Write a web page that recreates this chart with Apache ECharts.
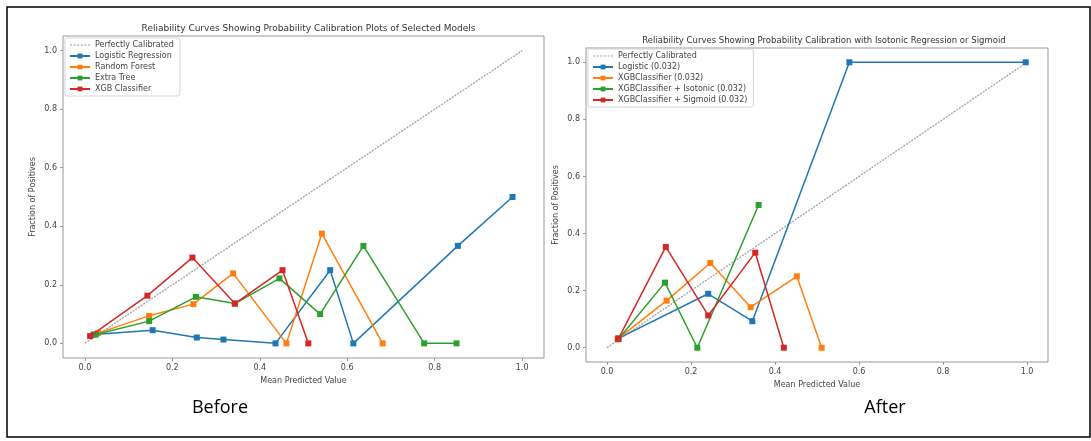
<!DOCTYPE html>
<html>
<head>
<meta charset="utf-8">
<script src="https://cdn.jsdelivr.net/npm/echarts@6/dist/echarts.min.js"></script>
<style>
html,body{margin:0;padding:0;background:#fff;}
#c{width:1091px;height:441px;}
</style>
</head>
<body>
<div id="c"></div>
<script>
// ---- data ----
const tickValues = [0, 0.2, 0.4, 0.6, 0.8, 1.0];
const perfectX = [0, 1];
const perfectY = [0, 1];

// Before (left)
const lrX = [0.02, 0.155, 0.256, 0.317, 0.436, 0.561, 0.614, 0.853, 0.978];
const lrY = [0.03, 0.045, 0.02, 0.013, 0.0, 0.25, 0.0, 0.333, 0.5];
const rfX = [0.03, 0.147, 0.248, 0.339, 0.461, 0.542, 0.681];
const rfY = [0.035, 0.094, 0.134, 0.239, 0.0, 0.375, 0.0];
const etX = [0.025, 0.147, 0.254, 0.343, 0.445, 0.538, 0.637, 0.776, 0.85];
const etY = [0.03, 0.076, 0.159, 0.136, 0.222, 0.1, 0.333, 0.0, 0.0];
const xgbX = [0.012, 0.143, 0.246, 0.343, 0.452, 0.511];
const xgbY = [0.025, 0.163, 0.293, 0.136, 0.25, 0.0];

// After (right)
const logX = [0.027, 0.241, 0.346, 0.577, 0.997];
const logY = [0.033, 0.189, 0.093, 1.0, 1.0];
const xgX = [0.025, 0.142, 0.246, 0.342, 0.452, 0.511];
const xgY = [0.03, 0.165, 0.297, 0.142, 0.25, 0.0];
const isoX = [0.027, 0.138, 0.215, 0.361];
const isoY = [0.03, 0.228, 0.0, 0.5];
const sigX = [0.027, 0.14, 0.241, 0.353, 0.421];
const sigY = [0.031, 0.353, 0.113, 0.333, 0.0];

const leftNames = ['Perfectly Calibrated', 'Logistic Regression', 'Random Forest', 'Extra Tree', 'XGB Classifier'];
const rightNames = ['Perfectly Calibrated ', 'Logistic (0.032)', 'XGBClassifier (0.032)', 'XGBClassifier + Isotonic (0.032)', 'XGBClassifier + Sigmoid (0.032)'];
const titles = ['Reliability Curves Showing Probability Calibration Plots of Selected Models',
                'Reliability Curves Showing Probability Calibration with Isotonic Regression or Sigmoid'];
const captions = ['Before', 'After'];
const colors = ['#1f77b4', '#ff7f0e', '#2ca02c', '#d62728'];

function pairs(xs, ys) { return xs.map((x, i) => [x, ys[i]]); }

const chart = echarts.init(document.getElementById('c'), null, {renderer: 'canvas'});
const txt = '#444';
const font = 'DejaVu Sans';
const perfectColor = '#a0a0a0';
const dottedIcon = 'path://M0,0h2v1h-2z M3.5,0h2v1h-2z M7,0h2v1h-2z M10.5,0h2v1h-2z M14,0h2v1h-2z M17.5,0h2v1h-2z';

function xAx(gi) {
  return {
    type: 'value', gridIndex: gi, min: -0.05, max: 1.05,
    name: 'Mean Predicted Value', nameLocation: 'middle', nameGap: 17,
    nameTextStyle: {fontSize: 8, color: txt, fontFamily: font},
    axisLine: {show: false, onZero: false},
    axisTick: {show: true, length: 3, customValues: tickValues, lineStyle: {color: '#999'}},
    axisLabel: {customValues: tickValues, fontSize: 8, color: txt, fontFamily: font, margin: 6,
      formatter: v => v.toFixed(1)},
    splitLine: {show: false}
  };
}
function yAx(gi) {
  return {
    type: 'value', gridIndex: gi, min: -0.05, max: 1.05,
    name: 'Fraction of Positives', nameLocation: 'middle', nameGap: 26, nameRotate: 90,
    nameTextStyle: {fontSize: 8, color: txt, fontFamily: font},
    axisLine: {show: false, onZero: false},
    axisTick: {show: true, length: 3, customValues: tickValues, lineStyle: {color: '#999'}},
    axisLabel: {customValues: tickValues, fontSize: 8, color: txt, fontFamily: font, margin: 6,
      formatter: v => v.toFixed(1)},
    splitLine: {show: false}
  };
}

function perfect(name, gi) {
  return {name: name, type: 'line', xAxisIndex: gi, yAxisIndex: gi, data: pairs(perfectX, perfectY),
    symbol: 'none', lineStyle: {color: perfectColor, width: 1.3, type: [2, 1.2]}, itemStyle: {color: perfectColor},
    silent: true, z: 1};
}
function curve(name, gi, xs, ys, ci) {
  return {name: name, type: 'line', xAxisIndex: gi, yAxisIndex: gi, data: pairs(xs, ys),
    symbol: 'rect', symbolSize: 6, showSymbol: true,
    lineStyle: {color: colors[ci], width: 1.5}, itemStyle: {color: colors[ci]}, z: 2 + ci};
}

function legend(names, left, top) {
  return {
    data: names.map((n, i) => i === 0 ? {name: n, icon: dottedIcon, itemStyle: {color: perfectColor}} : {name: n}),
    orient: 'vertical', left: left, top: top,
    itemWidth: 20, itemHeight: 6, itemGap: 3, padding: [3, 6, 3, 4],
    backgroundColor: 'rgba(255,255,255,0.85)', borderColor: '#d5d5d5', borderWidth: 1, borderRadius: 2,
    textStyle: {fontSize: 8, color: txt, fontFamily: font},
    selectedMode: false
  };
}

const option = {
  animation: false,
  backgroundColor: '#fff',
  title: [
    {text: titles[0], left: 303.5, top: 19, textAlign: 'center',
      textStyle: {fontSize: 9, fontWeight: 'normal', color: '#333', fontFamily: font}},
    {text: titles[1], left: 819, top: 31, textAlign: 'center',
      textStyle: {fontSize: 8.5, fontWeight: 'normal', color: '#333', fontFamily: font}}
  ],
  grid: [
    {left: 63, top: 36, width: 481, height: 322, show: true, borderColor: '#999', borderWidth: 1,
      backgroundColor: 'transparent', outerBoundsMode: 'none', containLabel: false},
    {left: 586, top: 48, width: 462, height: 314, show: true, borderColor: '#999', borderWidth: 1,
      backgroundColor: 'transparent', outerBoundsMode: 'none', containLabel: false}
  ],
  xAxis: [xAx(0), xAx(1)],
  yAxis: [yAx(0), yAx(1)],
  legend: [legend(leftNames, 65, 38), legend(rightNames, 588, 49)],
  series: [
    perfect(leftNames[0], 0),
    curve(leftNames[1], 0, lrX, lrY, 0),
    curve(leftNames[2], 0, rfX, rfY, 1),
    curve(leftNames[3], 0, etX, etY, 2),
    curve(leftNames[4], 0, xgbX, xgbY, 3),
    perfect(rightNames[0], 1),
    curve(rightNames[1], 1, logX, logY, 0),
    curve(rightNames[2], 1, xgX, xgY, 1),
    curve(rightNames[3], 1, isoX, isoY, 2),
    curve(rightNames[4], 1, sigX, sigY, 3)
  ],
  graphic: [
    {type: 'rect', shape: {x: 7, y: 7, width: 1083, height: 430}, style: {fill: 'none', stroke: '#000', lineWidth: 1.5}, silent: true},
    {type: 'text', x: 220, y: 408, style: {text: captions[0], font: '18px "Open Sans"', fill: '#000', textAlign: 'center', textVerticalAlign: 'middle'}},
    {type: 'text', x: 885, y: 408, style: {text: captions[1], font: '18px "Open Sans"', fill: '#000', textAlign: 'center', textVerticalAlign: 'middle'}}
  ]
};
chart.setOption(option);
</script>
</body>
</html>
